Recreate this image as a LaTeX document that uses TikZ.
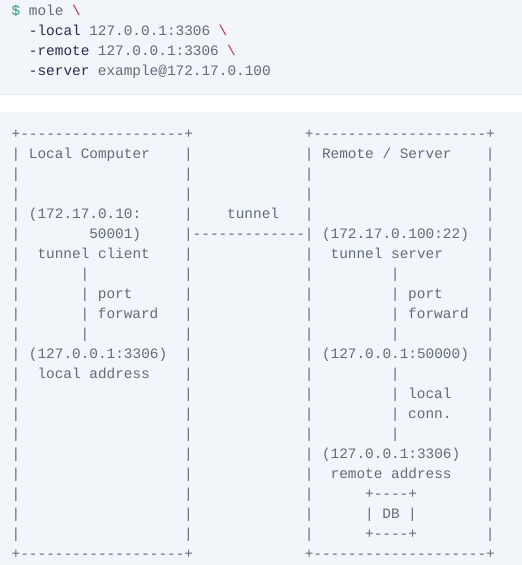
\documentclass[tikz,border=0pt]{standalone}
\usepackage{fontspec}
\setmonofont{Liberation Mono}
\usepackage{tikz}
\usetikzlibrary{positioning}
\usepackage{xcolor}
\definecolor{codebg}{RGB}{242,245,250}
\definecolor{codeline}{RGB}{224,228,234}
\definecolor{codegray}{RGB}{98,108,118}
\definecolor{codeteal}{RGB}{46,150,134}
\definecolor{codered}{RGB}{196,42,92}
\definecolor{codenavy}{RGB}{42,40,78}
\tikzstyle{ascii} = [anchor=base west, inner sep=0pt, outer sep=0pt, text=codegray, font=\ttfamily\fontsize{14.4}{20}\selectfont]
% column -> x position (one character is 8.62pt wide)
\newcommand{\cx}[1]{11.7+#1*8.62}
% row -> baseline of the ascii block
\newcommand{\ry}[1]{138+20*#1}

\begin{document}
\begin{tikzpicture}[x=1pt, y=-1pt]
\useasboundingbox (0,0) rectangle (522,565);

% Code block backgrounds
\fill[codebg] (0,0) rectangle (522,93.5);
\draw[codeline] (0,94) -- (522,94);
\fill[white] (0,94.5) rectangle (522,111.5);
\fill[codebg] (0,111.5) rectangle (522,565);

% Shell command
\node (cmd-dollar) [ascii, text=codeteal] at ({\cx{0}},15) {\$};
\node (cmd-mole) [ascii] at ({\cx{2}},15) {mole};
\node (cmd-bs1) [ascii, text=codered] at ({\cx{7}},15) {\textbackslash};
\node (cmd-local) [ascii, text=codenavy] at ({\cx{2}},35) {-local};
\node (cmd-localv) [ascii] at ({\cx{9}},35) {127.0.0.1:3306};
\node (cmd-bs2) [ascii, text=codered] at ({\cx{24}},35) {\textbackslash};
\node (cmd-remote) [ascii, text=codenavy] at ({\cx{2}},55) {-remote};
\node (cmd-remotev) [ascii] at ({\cx{10}},55) {127.0.0.1:3306};
\node (cmd-bs3) [ascii, text=codered] at ({\cx{25}},55) {\textbackslash};
\node (cmd-server) [ascii, text=codenavy] at ({\cx{2}},75) {-server};
\node (cmd-serverv) [ascii] at ({\cx{10}},75) {example@172.17.0.100};

% Box frames
\node (local-top) [ascii] at ({\cx{0}},{\ry{0}}) {+-------------------+};
\node (local-bot) [ascii] at ({\cx{0}},{\ry{21}}) {+-------------------+};
\node (remote-top) [ascii] at ({\cx{34}},{\ry{0}}) {+--------------------+};
\node (remote-bot) [ascii] at ({\cx{34}},{\ry{21}}) {+--------------------+};
\foreach \r in {1,...,20} {
  \node (local-l\r) [ascii] at ({\cx{0}},{\ry{\r}}) {|};
  \node (local-r\r) [ascii] at ({\cx{20}},{\ry{\r}}) {|};
  \node (remote-l\r) [ascii] at ({\cx{34}},{\ry{\r}}) {|};
  \node (remote-r\r) [ascii] at ({\cx{55}},{\ry{\r}}) {|};
}

% Local computer
\node (local-title) [ascii] at ({\cx{2}},{\ry{1}}) {Local Computer};
\node (local-ip1) [ascii] at ({\cx{2}},{\ry{4}}) {(172.17.0.10:};
\node (local-ip2) [ascii] at ({\cx{9}},{\ry{5}}) {50001)};
\node (local-client) [ascii] at ({\cx{3}},{\ry{6}}) {tunnel client};
\foreach \r in {7,...,10}
  \node (local-fwd\r) [ascii] at ({\cx{8}},{\ry{\r}}) {|};
\node (local-port) [ascii] at ({\cx{10}},{\ry{8}}) {port};
\node (local-forward) [ascii] at ({\cx{10}},{\ry{9}}) {forward};
\node (local-addr) [ascii] at ({\cx{2}},{\ry{11}}) {(127.0.0.1:3306)};
\node (local-addrlbl) [ascii] at ({\cx{3}},{\ry{12}}) {local address};

% Tunnel
\node (tunnel-lbl) [ascii] at ({\cx{25}},{\ry{4}}) {tunnel};
\node (tunnel-line) [ascii] at ({\cx{21}},{\ry{5}}) {-------------};

% Remote / server
\node (remote-title) [ascii] at ({\cx{36}},{\ry{1}}) {Remote / Server};
\node (remote-ip) [ascii] at ({\cx{36}},{\ry{5}}) {(172.17.0.100:22)};
\node (remote-server) [ascii] at ({\cx{37}},{\ry{6}}) {tunnel server};
\foreach \r in {7,8,9,10,12,13,14,15}
  \node (remote-fwd\r) [ascii] at ({\cx{44}},{\ry{\r}}) {|};
\node (remote-port) [ascii] at ({\cx{46}},{\ry{8}}) {port};
\node (remote-forward) [ascii] at ({\cx{46}},{\ry{9}}) {forward};
\node (remote-conn) [ascii] at ({\cx{36}},{\ry{11}}) {(127.0.0.1:50000)};
\node (remote-local) [ascii] at ({\cx{46}},{\ry{13}}) {local};
\node (remote-connlbl) [ascii] at ({\cx{46}},{\ry{14}}) {conn.};
\node (remote-addr) [ascii] at ({\cx{36}},{\ry{16}}) {(127.0.0.1:3306)};
\node (remote-addrlbl) [ascii] at ({\cx{37}},{\ry{17}}) {remote address};

% DB box
\node (db-top) [ascii] at ({\cx{41}},{\ry{18}}) {+----+};
\node (db-l) [ascii] at ({\cx{41}},{\ry{19}}) {|};
\node (db-lbl) [ascii] at ({\cx{43}},{\ry{19}}) {DB};
\node (db-r) [ascii] at ({\cx{46}},{\ry{19}}) {|};
\node (db-bot) [ascii] at ({\cx{41}},{\ry{20}}) {+----+};
\end{tikzpicture}
\end{document}
